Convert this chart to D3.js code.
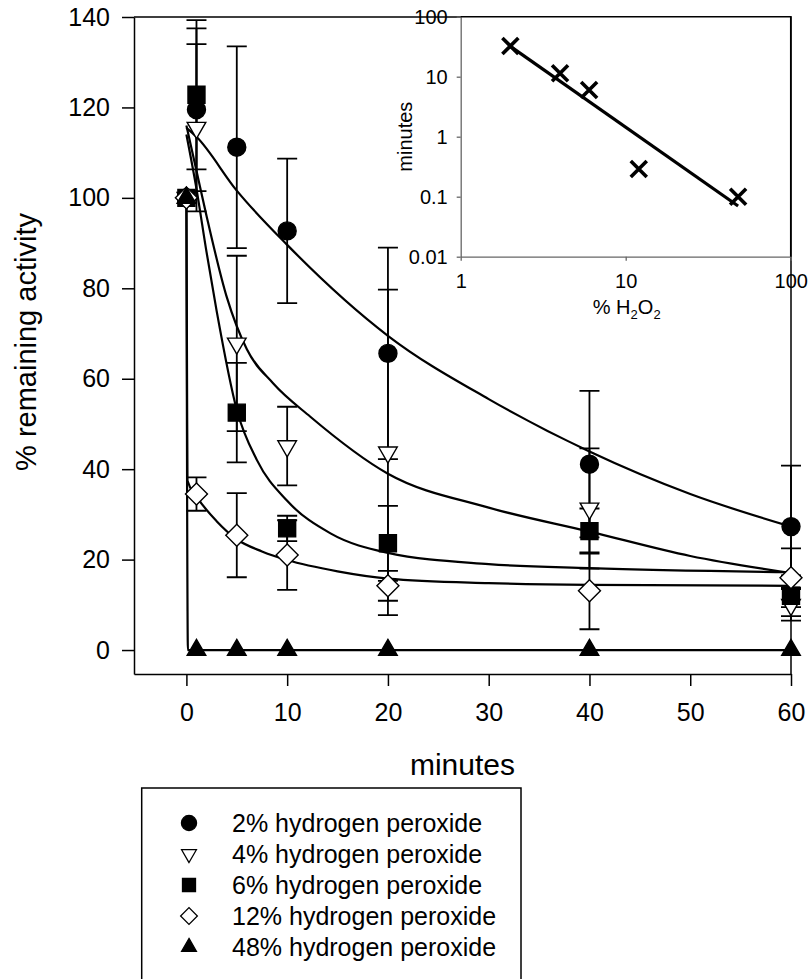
<!DOCTYPE html>
<html><head><meta charset="utf-8">
<script src="https://cdn.jsdelivr.net/npm/d3@7"></script>
<style>
body{margin:0;background:#fff}
svg{display:block}
text{font-family:Arial,"Liberation Sans",Helvetica,sans-serif;fill:#000}
</style>
</head><body>
<svg id="c" width="811" height="979"></svg>
<script>
// ---------------- data ----------------
const times = [0, 1, 5, 10, 20, 40, 60];
const seriesNames = ["2% hydrogen peroxide", "4% hydrogen peroxide", "6% hydrogen peroxide", "12% hydrogen peroxide", "48% hydrogen peroxide"];
const act2  = [100, 119.5, 111.2, 92.7, 65.6, 41.1, 27.3];
const err2  = [null, 18, 22.3, 16, 23.4, 16.2, 13.5];
const act4  = [100, 115.5, 67.8, 45.1, 43.7, 31.3, 10];
const err4  = [null, 18.5, 19.4, 8.7, 36, 13.3, 3.5];
const act6  = [100, 122.8, 52.5, 26.9, 23.6, 26.3, 12];
const err6  = [null, 16.5, 11, 2.8, 8.3, 5, 4.5];
const act12 = [100, 34.5, 25.4, 21.0, 14.2, 13.1, 16];
const err12 = [null, 3.7, 9.3, 7.7, 3.3, 8.5, 6.5];
const act48 = [100, 0, 0, 0, 0, 0, 0];
const err48 = [null, null, null, null, null, null, null];

// fitted curves: [minutes, % activity]
const fit2  = [[0,115.5],[1,113.5],[5,101.6],[10,89.6],[20,69.5],[30,55.5],[40,43.9],[50,34.5],[60,27.3]];
const fit4  = [[0,116],[1,106],[2,96],[4,78.1],[6,66.5],[8.6,59],[12.3,51.6],[20,39],[30,31.5],[40,26.2],[50,20.8],[60,17]];
const fit6  = [[0,114],[1,102],[2,88],[3,75],[5,53.1],[7,42],[10,33],[14.3,25.8],[20,21.5],[30,19],[40,18.1],[60,17.2]];
const fit12 = [[0,100],[0.1,37.5],[1,34],[3,28.5],[5,24.5],[7.5,21.8],[10,19.9],[15,17.4],[20,15.8],[30,14.8],[40,14.4],[60,14.2]];
const fit48 = [[0,100],[0.15,0],[60,0]];

const xTicks = [0, 10, 20, 30, 40, 50, 60];
const yTicks = [0, 20, 40, 60, 80, 100, 120, 140];

// inset: half-life (minutes) vs % H2O2
const h2o2Pct  = [2, 4, 6, 12, 48];
const halfLife = [32.5, 11.4, 6.0, 0.29, 0.10];
const regPct   = [2, 48];
const regMin   = [32, 0.07];
const insetXTicks = [1, 10, 100];
const insetYTicks = [0.01, 0.1, 1, 10, 100];

// ---------------- drawing ----------------
const svg = d3.select("#c");
const FONT = 'Arial,"Liberation Sans",Helvetica,sans-serif';

const x = d3.scaleLinear().domain([-5.2, 60]).range([134, 791]);
const y = d3.scaleLinear().domain([-5.3, 140]).range([674, 17]);

// frame (top + right)
svg.append("path")
  .attr("d", `M${x.range()[0]},${y.range()[1]}H${x.range()[1]}V${y.range()[0]}`)
  .attr("fill", "none").attr("stroke", "#000").attr("stroke-width", 1.5);

const gx = svg.append("g").attr("transform", `translate(0,${y.range()[0]})`)
  .call(d3.axisBottom(x).tickValues(xTicks).tickSize(12).tickSizeOuter(0).tickPadding(17).tickFormat(d3.format("d")));
const gy = svg.append("g").attr("transform", `translate(${x.range()[0]},0)`)
  .call(d3.axisLeft(y).tickValues(yTicks).tickSize(12).tickSizeOuter(0).tickPadding(12).tickFormat(d3.format("d")));
[gx, gy].forEach(g => {
  g.selectAll("path.domain").attr("stroke-width", 1.5);
  g.selectAll(".tick line").attr("stroke-width", 1.5);
  g.selectAll("text").style("font-size", "25px").style("font-family", FONT);
});

// axis titles
svg.append("text").attr("x", (x.range()[0] + x.range()[1]) / 2).attr("y", 775)
  .attr("text-anchor", "middle").style("font-size", "30px").text("minutes");
svg.append("text").attr("transform", "translate(36,342) rotate(-90)")
  .attr("text-anchor", "middle").style("font-size", "29px").text("% remaining activity");

// fitted curves
const line = d3.line().x(d => x(d[0])).y(d => y(d[1])).curve(d3.curveMonotoneX);
[fit2, fit4, fit6, fit12, fit48].forEach(f => {
  svg.append("path").attr("d", line(f)).attr("fill", "none")
    .attr("stroke", "#000").attr("stroke-width", 2.2);
});

// symbols
const sym = {
  circle:  {type: d3.symbolCircle,   size: 254, rot: 0,   fill: "#000"},
  triDown: {type: d3.symbolTriangle, size: 150, rot: 180, fill: "#fff"},
  square:  {type: d3.symbolSquare,   size: 289, rot: 0,   fill: "#000"},
  diamond: {type: d3.symbolSquare,   size: 242, rot: 45,  fill: "#fff"},
  triUp:   {type: d3.symbolTriangle, size: 150, rot: 0,   fill: "#000"}
};
const series = [
  {vals: act2,  errs: err2,  s: sym.circle},
  {vals: act4,  errs: err4,  s: sym.triDown},
  {vals: act6,  errs: err6,  s: sym.square},
  {vals: act12, errs: err12, s: sym.diamond},
  {vals: act48, errs: err48, s: sym.triUp}
];
const capW = 10;
series.forEach(sr => {
  const g = svg.append("g");
  times.forEach((t, i) => {
    const e = sr.errs[i];
    if (e == null) return;
    const cx = x(t), y1 = y(sr.vals[i] + e), y0 = y(sr.vals[i] - e);
    g.append("path")
      .attr("d", `M${cx},${y1}V${y0}M${cx - capW},${y1}H${cx + capW}M${cx - capW},${y0}H${cx + capW}`)
      .attr("fill", "none").attr("stroke", "#000").attr("stroke-width", 1.8);
  });
});
series.forEach(sr => {
  const g = svg.append("g");
  times.forEach((t, i) => {
    g.append("path")
      .attr("d", d3.symbol().type(sr.s.type).size(sr.s.size)())
      .attr("transform", `translate(${x(t)},${y(sr.vals[i])}) rotate(${sr.s.rot})`)
      .attr("fill", sr.s.fill).attr("stroke", "#000").attr("stroke-width", 1.4);
  });
});

// ---------------- inset ----------------
const ix = d3.scaleLog().domain([1, 100]).range([460.7, 790.7]);
const iy = d3.scaleLog().domain([0.01, 100]).range([256.7, 16.7]);
const ig = svg.append("g");
ig.append("rect").attr("x", ix.range()[0]).attr("y", iy.range()[1])
  .attr("width", ix.range()[1] - ix.range()[0]).attr("height", iy.range()[0] - iy.range()[1])
  .attr("fill", "#fff");
const igx = ig.append("g").attr("transform", `translate(0,${iy.range()[0]})`)
  .call(d3.axisBottom(ix).tickValues(insetXTicks).tickSize(4).tickSizeOuter(0).tickPadding(13).tickFormat(d => String(d)));
const igy = ig.append("g").attr("transform", `translate(${ix.range()[0]},0)`)
  .call(d3.axisLeft(iy).tickValues(insetYTicks).tickSize(4).tickSizeOuter(0).tickPadding(9).tickFormat(d => String(d)));
[igx, igy].forEach(g => {
  g.selectAll("path.domain").attr("stroke", "#666").attr("stroke-width", 1.3);
  g.selectAll(".tick line").attr("stroke", "#666").attr("stroke-width", 1.3);
  g.selectAll("text").style("font-size", "20px").style("font-family", FONT);
});
// inset top and right border
ig.append("path")
  .attr("d", `M${ix.range()[0]},${iy.range()[1]}H${ix.range()[1]}V${iy.range()[0]}`)
  .attr("fill", "none").attr("stroke", "#000").attr("stroke-width", 1.5);
// regression line
ig.append("path")
  .attr("d", d3.line().x(d => ix(d[0])).y(d => iy(d[1]))(regPct.map((p, i) => [p, regMin[i]])))
  .attr("fill", "none").attr("stroke", "#000").attr("stroke-width", 3.2);
// X markers
const xm = 8;
h2o2Pct.forEach((p, i) => {
  const cx = ix(p), cy = iy(halfLife[i]);
  ig.append("path").attr("d", `M${cx - xm},${cy - xm}L${cx + xm},${cy + xm}M${cx - xm},${cy + xm}L${cx + xm},${cy - xm}`)
    .attr("stroke", "#000").attr("stroke-width", 3.6).attr("fill", "none");
});
// inset titles
const lt = ig.append("text").attr("x", 626.7).attr("y", 314).attr("text-anchor", "middle").style("font-size", "20px");
lt.append("tspan").text("% H");
lt.append("tspan").attr("dy", 5).style("font-size", "13px").text("2");
lt.append("tspan").attr("dy", -5).text("O");
lt.append("tspan").attr("dy", 5).style("font-size", "13px").text("2");
ig.append("text").attr("transform", `translate(411.5,${(iy.range()[0] + iy.range()[1]) / 2}) rotate(-90)`)
  .attr("text-anchor", "middle").style("font-size", "20px").text("minutes");

// ---------------- legend ----------------
const lg = svg.append("g");
lg.append("rect").attr("x", 141.7).attr("y", 788).attr("width", 379.3).attr("height", 220)
  .attr("fill", "#fff").attr("stroke", "#000").attr("stroke-width", 1.5);
const legSym = [
  {s: sym.circle,  size: 180},
  {s: sym.triDown, size: 95},
  {s: sym.square,  size: 169},
  {s: sym.diamond, size: 140},
  {s: sym.triUp,   size: 95}
];
seriesNames.forEach((name, i) => {
  const cy = 823 + i * 31;
  lg.append("path").attr("d", d3.symbol().type(legSym[i].s.type).size(legSym[i].size)())
    .attr("transform", `translate(189,${cy}) rotate(${legSym[i].s.rot})`)
    .attr("fill", legSym[i].s.fill).attr("stroke", "#000").attr("stroke-width", 1.3);
  lg.append("text").attr("x", 232).attr("y", cy + 9).style("font-size", "25px").text(name);
});
</script>
</body></html>
